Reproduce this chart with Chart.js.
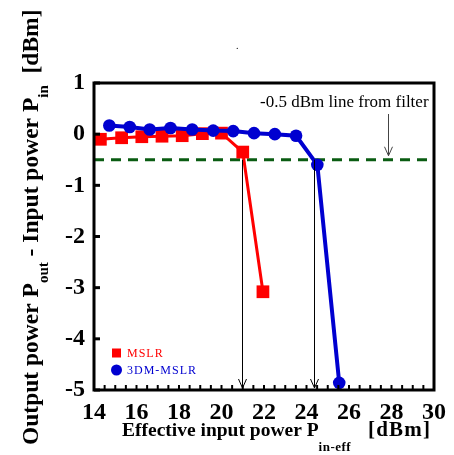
<!DOCTYPE html>
<html>
<head>
<meta charset="utf-8">
<script src="https://cdn.jsdelivr.net/npm/chart.js@4/dist/chart.umd.min.js"></script>
<style>
 body{margin:0;background:#fff;}
 #wrap{width:454px;height:455px;}
</style>
</head>
<body>
<div id="wrap"><canvas id="powerChart" width="454" height="455"></canvas></div>
<script>
// data
const mslrX=[14.3,15.3,16.25,17.2,18.15,19.1,20.0,21.0,21.95];
const mslrY=[-0.1,-0.07,-0.05,-0.04,-0.03,0.01,0.02,-0.35,-3.08];
const dmX=[14.72,15.68,16.62,17.6,18.62,19.61,20.55,21.53,22.51,23.51,24.51,25.54];
const dmY=[0.17,0.14,0.09,0.12,0.09,0.07,0.06,0.02,0.0,-0.03,-0.6,-4.86];
const filterLevel=-0.5;
const crossX=[20.95,24.35];   // where the curves cross the -0.5 dBm line
const noteX=27.85;            // arrow under the "-0.5 dBm" note
const xTicks=[14,16,18,20,22,24,26,28,30];
const yTicks=[1,0,-1,-2,-3,-4,-5];

const serif='"Liberation Serif","Times New Roman",serif';
const pts=(xs,ys)=>xs.map((x,i)=>({x:x,y:ys[i]}));

// box, inner ticks, arrows, texts, legend
const decor={
 id:'decor',
 afterDatasetsDraw(chart){
  const c=chart.ctx, a=chart.chartArea, sx=chart.scales.x, sy=chart.scales.y;
  c.save();
  // vertical arrows down to the axis
  c.strokeStyle='#000';c.lineWidth=1;
  crossX.forEach(v=>{
   const px=Math.round(sx.getPixelForValue(v))+0.5;
   const top=sy.getPixelForValue(filterLevel), bot=a.bottom-2;
   c.beginPath();c.moveTo(px,top);c.lineTo(px,bot);
   c.moveTo(px-4,bot-9);c.lineTo(px,bot);c.lineTo(px+4,bot-9);c.stroke();
  });
  // note arrow
  c.strokeStyle='#444';
  const nx=Math.round(sx.getPixelForValue(noteX))+0.5;
  const ny=sy.getPixelForValue(filterLevel)-4;
  c.beginPath();c.moveTo(nx,114);c.lineTo(nx,ny);
  c.moveTo(nx-4,ny-9);c.lineTo(nx,ny);c.lineTo(nx+4,ny-9);c.stroke();
  // frame
  c.strokeStyle='#000';c.lineWidth=3;
  c.strokeRect(a.left,a.top,a.right-a.left,a.bottom-a.top);
  // inner ticks
  c.lineWidth=3;
  yTicks.forEach(v=>{
   const py=sy.getPixelForValue(v);
   c.beginPath();c.moveTo(a.left,py);c.lineTo(a.left+6,py);c.stroke();
  });
  c.lineWidth=2;
  for(let v=14.5;v<30;v+=0.5){
   const px=sx.getPixelForValue(v);
   c.beginPath();c.moveTo(px,a.bottom);c.lineTo(px,a.bottom-5);c.stroke();
  }
  // note text
  c.fillStyle='#000';c.font='17px '+serif;c.textBaseline='alphabetic';c.textAlign='left';
  c.fillText('-0.5 dBm line from filter',260,107);
  c.font='10px '+serif;c.fillText('.',236,49);
  // legend
  c.fillStyle='#ff0000';c.fillRect(112,348.5,9,9);
  c.fillStyle='#0000d0';c.beginPath();c.arc(116.5,370,5.5,0,Math.PI*2);c.fill();
  c.font='12px '+serif;c.textBaseline='middle';
  c.letterSpacing='1px';
  c.fillStyle='#ff0000';c.fillText('MSLR',127,353.5);
  c.fillStyle='#0000d0';c.fillText('3DM-MSLR',127,370.5);
  c.letterSpacing='0px';
  // x title with subscript
  c.fillStyle='#000';c.textBaseline='alphabetic';
  let x=122;
  c.font='bold 19.5px '+serif;c.fillText('Effective input power P',x,436);
  x+=c.measureText('Effective input power P').width;
  c.font='bold 13px '+serif;c.letterSpacing='0.5px';c.fillText('in-eff',x,451);
  c.font='bold 21px '+serif;c.letterSpacing='1.2px';c.fillText('[dBm]',368,436);
  c.letterSpacing='0px';
  // y title with subscripts
  c.translate(38,445);c.rotate(-Math.PI/2);
  const parts=[['Output power P',23.5,0],['out',15,10],[' - Input power P',23.5,0],['in',15,10],['  [dBm]',23.5,0]];
  let y0=0;
  parts.forEach(p=>{
   c.font='bold '+p[1]+'px '+serif;
   c.fillText(p[0],y0,p[2]);
   y0+=c.measureText(p[0]).width;
  });
  c.restore();
 }
};

new Chart(document.getElementById('powerChart'),{
 type:'line',
 data:{
  datasets:[
   {label:'3DM-MSLR',data:pts(dmX,dmY),borderColor:'#0000d0',backgroundColor:'#0000d0',
    borderWidth:4,pointStyle:'circle',pointRadius:6.3,pointBorderWidth:0,order:0},
   {label:'MSLR',data:pts(mslrX,mslrY),borderColor:'#ff0000',backgroundColor:'#ff0000',
    borderWidth:3,pointStyle:'rect',pointRadius:9,pointBorderWidth:0,order:1},
   {label:'filter',data:[{x:14,y:filterLevel},{x:30,y:filterLevel}],borderColor:'#0a5c12',
    borderWidth:3,borderDash:[10,7],pointRadius:0,order:2}
  ]
 },
 options:{
  responsive:false,
  animation:false,
  layout:{padding:{top:83,right:18,left:0,bottom:0}},
  plugins:{legend:{display:false},tooltip:{enabled:false}},
  scales:{
   x:{type:'linear',min:14,max:30,
    afterFit:s=>{s.height=65;},
    afterBuildTicks:s=>{s.ticks=xTicks.map(v=>({value:v}));},
    grid:{display:false,drawTicks:false},border:{display:false},
    ticks:{color:'#000',padding:8,maxRotation:0,font:{family:serif,size:24,weight:'bold'}}},
   y:{min:-5,max:1,
    afterFit:s=>{s.width=94;},
    afterBuildTicks:s=>{s.ticks=yTicks.map(v=>({value:v}));},
    grid:{display:false,drawTicks:false},border:{display:false},
    ticks:{color:'#000',padding:9,font:{family:serif,size:24,weight:'bold'}}}
  }
 },
 plugins:[decor]
});
</script>
</body>
</html>
